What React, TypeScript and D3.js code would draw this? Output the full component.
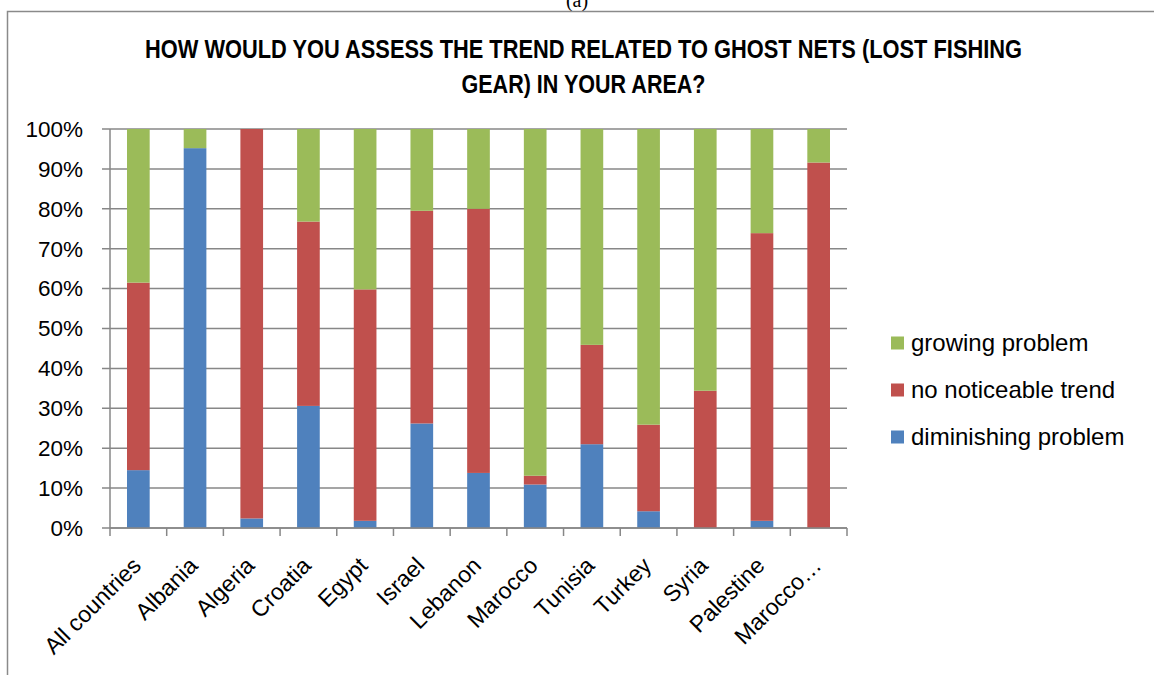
import React from "react";
import * as d3 from "d3";

// values (percent of answers)
const categories = ["All countries", "Albania", "Algeria", "Croatia", "Egypt", "Israel", "Lebanon", "Marocco", "Tunisia", "Turkey", "Syria", "Palestine", "Marocco…"];
const diminishing = [14.5, 95.2, 2.4, 30.6, 1.8, 26.2, 13.8, 10.9, 21.0, 4.2, 0, 1.8, 0];
const noTrend = [47.0, 0, 97.6, 46.2, 58.0, 53.3, 66.2, 2.2, 24.9, 21.7, 34.4, 72.1, 91.6];
const growing = [38.5, 4.8, 0, 23.2, 40.2, 20.5, 20.0, 86.9, 54.1, 74.1, 65.6, 26.1, 8.4];

const seriesKeys = ["diminishing", "noTrend", "growing"];
const seriesNames: Record<string, string> = {
  growing: "growing problem",
  noTrend: "no noticeable trend",
  diminishing: "diminishing problem",
};
const colors: Record<string, string> = {
  diminishing: "#4F81BD",
  noTrend: "#C0504D",
  growing: "#9BBB59",
};
const yTicks = [0, 10, 20, 30, 40, 50, 60, 70, 80, 90, 100];
const titleLines = ["HOW WOULD YOU ASSESS THE TREND RELATED TO GHOST NETS (LOST FISHING", "GEAR) IN YOUR AREA?"];

const W = 1154;
const H = 675;
const plot = { left: 110, right: 847, top: 129, bottom: 528 };
const font = "'Liberation Sans', Arial, sans-serif";
const gridColor = "#878787";

export default function App() {
  const rows = categories.map((c, i) => ({
    category: c,
    diminishing: diminishing[i],
    noTrend: noTrend[i],
    growing: growing[i],
  }));
  const stacked = d3.stack<any>().keys(seriesKeys)(rows);

  const x = d3.scaleBand<string>()
    .domain(categories)
    .range([plot.left, plot.right])
    .paddingInner(0.6)
    .paddingOuter(0.3);
  const y = d3.scaleLinear().domain([0, 100]).range([plot.bottom, plot.top]);

  const step = x.step();
  const boundaries = d3.range(categories.length + 1).map(i => plot.left + i * step);

  return (
    <div style={{ position: "absolute", left: 0, top: 0 }}>
      <svg width={W} height={H} style={{ display: "block", background: "#fff" }}>
        {/* figure caption, cut at the top */}
        <text x={577} y={7} textAnchor="middle" fontFamily="'Liberation Serif', serif" fontSize={20} fill="#000">(a)</text>

        {/* chart frame */}
        <path d={`M7.5,${H + 5} V11.5 H${W + 5}`} fill="none" stroke="#8a8a8a" strokeWidth={1.5} />

        {/* title */}
        {titleLines.map((t, i) => (
          <text key={i} x={583.5} y={58 + i * 35} textAnchor="middle" fontFamily={font}
            fontWeight="bold" fontSize={25} fill="#000"
            textLength={i === 0 ? 877 : 244} lengthAdjust="spacingAndGlyphs">{t}</text>
        ))}

        {/* gridlines + y ticks */}
        {yTicks.map(t => (
          <g key={t}>
            <line x1={plot.left - 8} x2={plot.right} y1={y(t)} y2={y(t)} stroke={gridColor} strokeWidth={1.5} />
            <text x={83} y={y(t)} dy="0.35em" textAnchor="end" fontFamily={font} fontSize={22.5} fill="#000">{t}%</text>
          </g>
        ))}

        {/* bars */}
        {stacked.map(s => (
          <g key={s.key} fill={colors[s.key]}>
            {s.map((d, i) => (
              <rect key={i} x={x(categories[i])} width={x.bandwidth()}
                y={y(d[1])} height={Math.max(0, y(d[0]) - y(d[1]))} />
            ))}
          </g>
        ))}

        {/* axes */}
        <line x1={plot.left} x2={plot.left} y1={plot.top} y2={plot.bottom} stroke={gridColor} strokeWidth={1.5} />
        <line x1={plot.left} x2={plot.right} y1={plot.bottom} y2={plot.bottom} stroke={gridColor} strokeWidth={1.5} />
        {boundaries.map((bx, i) => (
          <line key={i} x1={bx} x2={bx} y1={plot.bottom} y2={plot.bottom + 8} stroke={gridColor} strokeWidth={1.5} />
        ))}

        {/* category labels */}
        {categories.map(c => (
          <text key={c} transform={`translate(${(x(c) as number) + x.bandwidth() / 2 + 4},${plot.bottom + 39}) rotate(-45)`}
            textAnchor="end" fontFamily={font} fontSize={23} fill="#000">{c}</text>
        ))}

        {/* legend */}
        {["growing", "noTrend", "diminishing"].map((k, i) => (
          <g key={k} transform={`translate(891,${343 + i * 47})`}>
            <rect x={0} y={-6.5} width={13} height={13} fill={colors[k]} />
            <text x={20} y={0} dy="0.35em" fontFamily={font} fontSize={24} fill="#000">{seriesNames[k]}</text>
          </g>
        ))}
      </svg>
    </div>
  );
}
